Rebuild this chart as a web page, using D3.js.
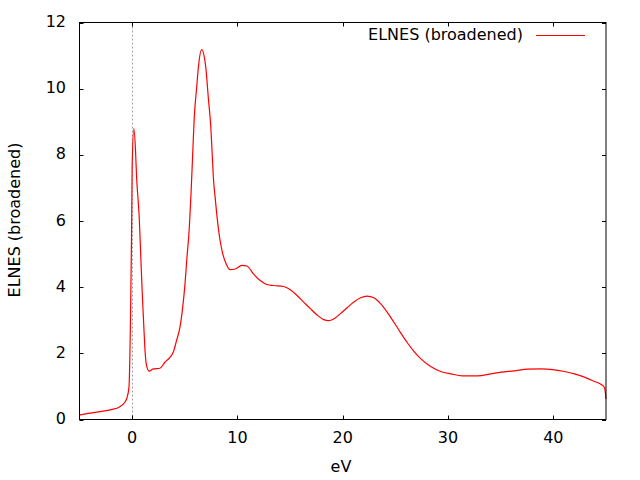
<!DOCTYPE html>
<html>
<head>
<meta charset="utf-8">
<script src="https://cdn.jsdelivr.net/npm/d3@7"></script>
<style>
  body { margin: 0; background: #fff; }
  text { font-family: "DejaVu Sans", sans-serif; font-size: 16px; fill: #000; }
</style>
</head>
<body>
<svg class="chart" width="640" height="480"></svg>
<script>
// energy loss (eV) and broadened ELNES intensity
var energy = [-5, -4, -3, -2, -1.2, -0.7, -0.5, -0.3, -0.15, -0.06, 0, 0.16, 0.32, 0.42, 0.57, 0.67,
  0.76, 0.86, 0.95, 1.05, 1.14, 1.24, 1.37, 1.62, 2.0, 2.64, 3.11, 3.59, 3.9, 4.22, 4.54, 4.8,
  5.02, 5.18, 5.43, 5.59, 5.75, 5.9, 6.13, 6.29, 6.6, 6.99, 7.24, 7.47, 7.6, 7.71, 7.88, 8.1,
  8.35, 8.61, 8.92, 9.3, 9.78, 10.42, 10.9, 11.52, 12.16, 12.8, 13.43, 14.38, 15.02, 15.66,
  16.29, 16.92, 17.56, 18.19, 18.67, 19.14, 19.78, 20.42, 21.05, 21.69, 22.32, 22.95, 23.59,
  24.23, 24.86, 25.5, 26.13, 26.76, 27.4, 28.35, 29.3, 30.26, 31.37, 32.8, 34.07, 35.02,
  36.29, 37.56, 38.83, 39.94, 41.05, 42.0, 42.95, 43.9, 44.54, 44.86, 45];
var elnes = [0.13, 0.19, 0.24, 0.30, 0.38, 0.52, 0.65, 0.98, 3.2, 5.47, 7.63, 8.79, 8.13, 7.33, 6.62, 6.12,
  5.41, 4.6, 3.9, 3.2, 2.6, 2.0, 1.63, 1.46, 1.53, 1.55, 1.73, 1.88, 2.03, 2.39, 2.79, 3.39,
  4.1, 4.8, 5.81, 6.82, 8.03, 9.14, 10.05, 10.65, 11.18, 10.65, 9.7, 8.84, 8.03, 7.33, 6.72, 6.02,
  5.41, 5.0, 4.71, 4.53, 4.55, 4.66, 4.64, 4.4, 4.2, 4.08, 4.05, 4.02, 3.92, 3.75,
  3.55, 3.35, 3.16, 3.02, 2.99, 3.04, 3.2, 3.38, 3.55, 3.68, 3.73, 3.68, 3.5,
  3.24, 2.94, 2.62, 2.32, 2.06, 1.84, 1.6, 1.45, 1.38, 1.32, 1.32, 1.38, 1.43,
  1.47, 1.52, 1.53, 1.51, 1.45, 1.38, 1.28, 1.15, 1.06, 0.96, 0.62];
var xTicks = [0, 10, 20, 30, 40];
var yTicks = [0, 2, 4, 6, 8, 10, 12];
var seriesName = "ELNES (broadened)";

var margin = {left: 79.5, right: 606, top: 22.5, bottom: 419.5};
var tickLen = 4;

var svg = d3.select(".chart");

var x = d3.scaleLinear().domain([-5, 45]).range([margin.left, margin.right]);
var y = d3.scaleLinear().domain([0, 12]).range([margin.bottom, margin.top]);

var data = energy.map(function(e, i) { return {e: e, v: elnes[i]}; });

// zero-energy marker
svg.append("line")
    .attr("x1", Math.round(x(0)) + 0.5).attr("x2", Math.round(x(0)) + 0.5)
    .attr("y1", margin.top).attr("y2", margin.bottom)
    .attr("stroke", "#a0a0a0")
    .attr("stroke-dasharray", "2,2");

// ticks, gnuplot style: inward and mirrored
var axisG = svg.append("g").attr("stroke", "#000").attr("stroke-width", 1);
xTicks.forEach(function(t) {
  var px = Math.round(x(t)) + 0.5;
  axisG.append("line").attr("x1", px).attr("x2", px).attr("y1", margin.bottom).attr("y2", margin.bottom - tickLen);
  axisG.append("line").attr("x1", px).attr("x2", px).attr("y1", margin.top).attr("y2", margin.top + tickLen);
});
yTicks.forEach(function(t) {
  var py = Math.round(y(t)) + 0.5;
  axisG.append("line").attr("x1", margin.left).attr("x2", margin.left + tickLen).attr("y1", py).attr("y2", py);
  axisG.append("line").attr("x1", margin.right).attr("x2", margin.right - tickLen).attr("y1", py).attr("y2", py);
});

svg.selectAll(".xlabel")
    .data(xTicks)
  .enter().append("text")
    .attr("class", "xlabel")
    .attr("x", function(d) { return x(d); })
    .attr("y", 443)
    .style("text-anchor", "middle")
    .text(function(d) { return d; });

svg.selectAll(".ylabel")
    .data(yTicks)
  .enter().append("text")
    .attr("class", "ylabel")
    .attr("x", 66)
    .attr("y", function(d) { return y(d) + 4.5; })
    .style("text-anchor", "end")
    .text(function(d) { return d; });

// the curve
var line = d3.line()
    .x(function(d) { return x(d.e); })
    .y(function(d) { return y(d.v); })
    .curve(d3.curveMonotoneX);

svg.append("path")
    .datum(data)
    .attr("fill", "none")
    .attr("stroke", "#ff0000")
    .attr("stroke-width", 1.2)
    .attr("d", line);

// frame
svg.append("rect")
    .attr("x", margin.left).attr("y", margin.top)
    .attr("width", margin.right - margin.left).attr("height", margin.bottom - margin.top)
    .attr("fill", "none")
    .attr("stroke", "#000");

// axis titles
svg.append("text")
    .attr("x", 341)
    .attr("y", 472)
    .style("text-anchor", "middle")
    .text("eV");

svg.append("text")
    .attr("transform", "translate(20,220) rotate(-90)")
    .style("text-anchor", "middle")
    .text(seriesName);

// key
svg.append("text")
    .attr("x", 523)
    .attr("y", 40)
    .style("text-anchor", "end")
    .text(seriesName);
svg.append("line")
    .attr("x1", 536).attr("x2", 585)
    .attr("y1", 35.5).attr("y2", 35.5)
    .attr("stroke", "#ff0000");
</script>
</body>
</html>
